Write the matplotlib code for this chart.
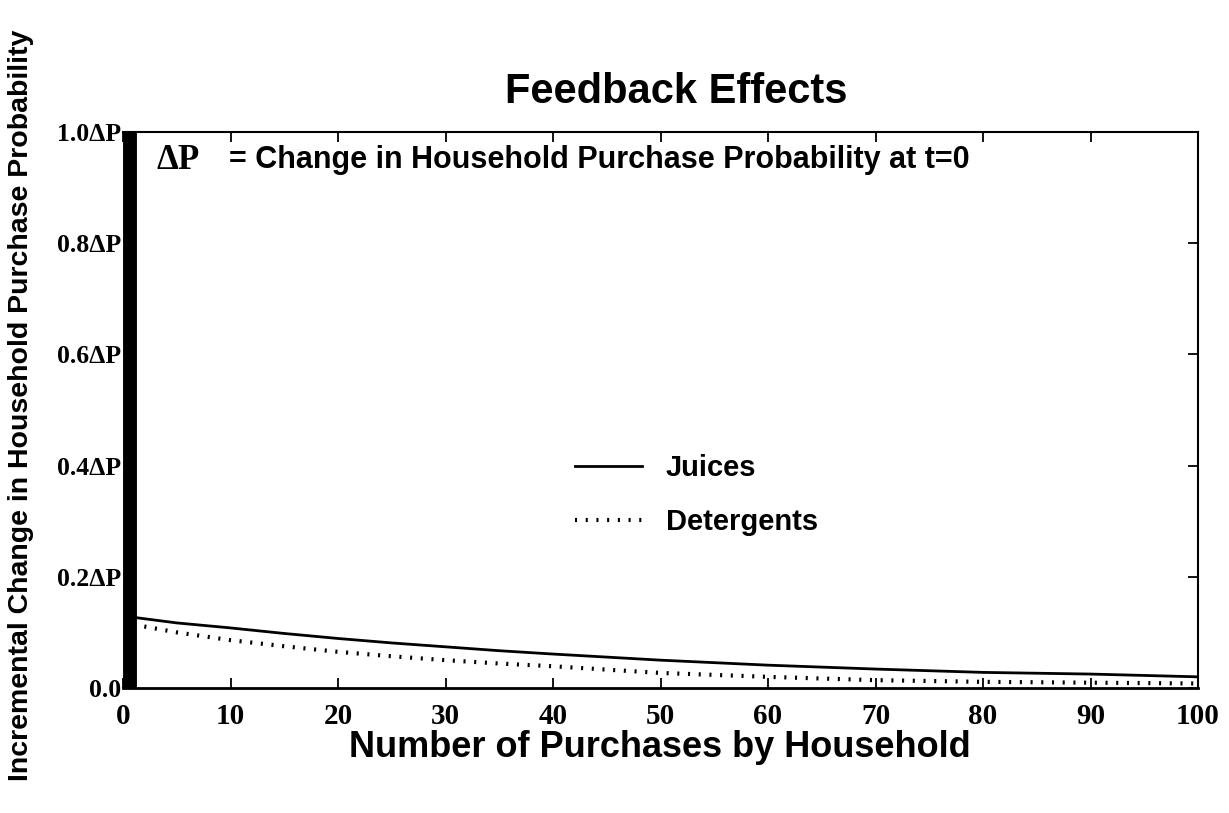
import matplotlib
matplotlib.use("Agg")
import matplotlib.pyplot as plt

# values
purchases = [1, 5, 10, 15, 20, 25, 30, 35, 40, 50, 60, 70, 80, 90, 100]
juices = [0.127, 0.117, 0.108, 0.098, 0.089, 0.081, 0.074, 0.067, 0.061, 0.050, 0.041, 0.034, 0.028, 0.025, 0.020]
detergents = [0.114, 0.100, 0.086, 0.075, 0.065, 0.057, 0.050, 0.044, 0.039, 0.027, 0.020, 0.014, 0.011, 0.0095, 0.008]

xticks = [0, 10, 20, 30, 40, 50, 60, 70, 80, 90, 100]
yticks = [0.0, 0.2, 0.4, 0.6, 0.8, 1.0]
ytick_labels = ["0.0", "0.2\u0394P", "0.4\u0394P", "0.6\u0394P", "0.8\u0394P", "1.0\u0394P"]

SANS = "Liberation Sans"
SERIF = "Liberation Serif"

fig = plt.figure(figsize=(12.29, 8.13), dpi=100)
ax = fig.add_axes([0.1001, 0.1538, 0.8747, 0.6838])

# thick black left axis bar (set first: moving a spine resets the ticks)
ax.spines["left"].set_linewidth(10)
ax.spines["left"].set_capstyle("butt")
ax.spines["left"].set_position(("outward", -5))
ax.spines["bottom"].set_linewidth(2.0)
ax.spines["top"].set_linewidth(1.5)
ax.spines["right"].set_linewidth(1.5)

ax.plot(purchases, juices, color="black", lw=2.0, label="Juices")
ax.plot(purchases, detergents, color="black", lw=3.0, dashes=(0.5, 2.07),
        label="Detergents")

ax.set_xlim(0, 100)
ax.set_ylim(0, 1.0)
ax.tick_params(direction="in", length=7, width=1.3, top=True, right=True)
ax.tick_params(axis="x", pad=11)
ax.tick_params(axis="y", pad=6.5, left=False)

ax.set_xticks(xticks)
ax.set_xticklabels([str(v) for v in xticks], fontfamily=SERIF,
                   fontweight="bold", fontsize=21)
ax.set_yticks(yticks)
ax.set_yticklabels(ytick_labels, fontfamily=SERIF, fontweight="bold",
                   fontsize=18.5)

fig.text(0.550, 0.887, "Feedback Effects", fontfamily=SANS, fontweight="bold",
         fontsize=30, ha="center", va="center")
fig.text(0.537, 0.080, "Number of Purchases by Household", fontfamily=SANS,
         fontweight="bold", fontsize=26, ha="center", va="center")
fig.text(0.017, 0.502, "Incremental Change in Household Purchase Probability",
         fontfamily=SANS, fontweight="bold", fontsize=20.5, rotation=90,
         ha="center", va="center")

fig.text(0.127, 0.803, "\u0394P", fontfamily=SERIF, fontweight="bold",
         fontsize=25, ha="left", va="center")
fig.text(0.186, 0.803, "= Change in Household Purchase Probability at t=0",
         fontfamily=SANS, fontweight="bold", fontsize=22, ha="left", va="center")

leg = ax.legend(loc="center left", bbox_to_anchor=(0.468, 0.391),
                bbox_transform=fig.transFigure, frameon=False,
                prop={"family": SANS, "weight": "bold", "size": 21},
                handlelength=2.3, handletextpad=0.8, labelspacing=0.9,
                borderpad=0, borderaxespad=0)

fig.savefig("out.png", dpi=100)
